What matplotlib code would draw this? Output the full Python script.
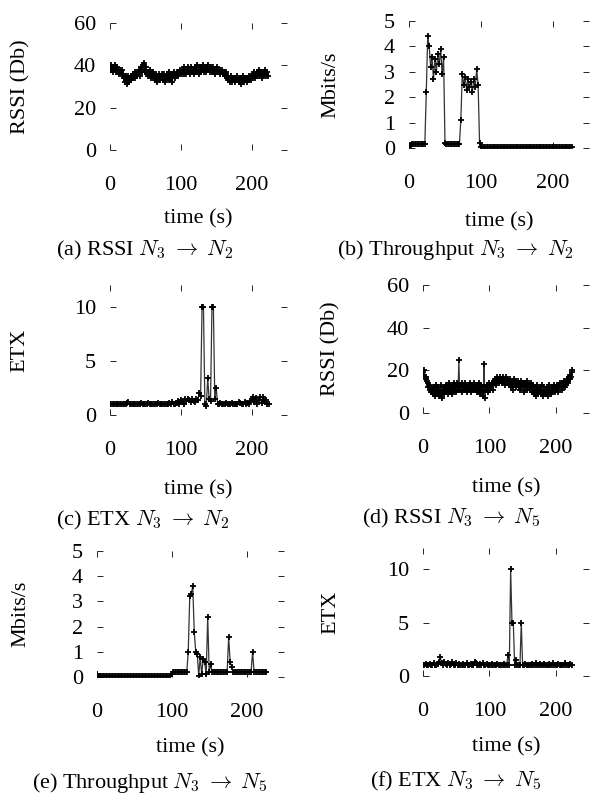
import numpy as np
import matplotlib
matplotlib.use("Agg")
import matplotlib.pyplot as plt

plt.rcParams['font.family'] = ['Liberation Serif', 'DejaVu Serif']
plt.rcParams['mathtext.fontset'] = 'cm'
plt.rcParams['font.size'] = 16

# (a) RSSI N3 -> N2, one sample per second from t = 0
rssi_32 = [39, 38, 40, 38, 37, 39, 38, 40, 37, 38, 39, 37, 38, 36, 38, 37,
           37, 38, 36, 35, 34, 32, 35, 33, 31, 34, 35, 32, 34, 33, 35, 34,
           36, 34, 35, 37, 34, 36, 35, 37, 36, 38, 37, 35, 39, 37, 38, 40,
           41, 38, 37, 39, 36, 37, 35, 37, 36, 38, 34, 36, 35, 37, 34, 33,
           35, 36, 34, 32, 35, 36, 33, 35, 34, 36, 35, 33, 36, 34, 32, 35,
           34, 36, 35, 33, 37, 35, 34, 36, 32, 35, 37, 36, 34, 35, 37, 36,
           35, 37, 36, 38, 37, 36, 38, 37, 39, 36, 38, 37, 36, 38, 39, 37,
           38, 36, 37, 39, 38, 37, 38, 36, 39, 37, 38, 40, 37, 38, 36, 39,
           38, 37, 39, 38, 40, 37, 38, 39, 37, 38, 39, 40, 38, 37, 39, 38,
           37, 38, 39, 37, 38, 36, 38, 39, 37, 38, 37, 36, 38, 37, 38, 37,
           36, 37, 35, 36, 37, 34, 35, 33, 34, 32, 33, 35, 34, 32, 33, 34,
           33, 32, 34, 33, 35, 33, 32, 34, 33, 31, 34, 33, 35, 32, 34, 33,
           34, 33, 32, 34, 33, 35, 34, 33, 35, 34, 36, 35, 37, 34, 36, 35,
           37, 36, 38, 35, 36, 37, 34, 36, 35, 37, 36, 38, 35, 36, 37, 35]

# (b) throughput N3 -> N2 (Mbits/s), one sample every 2 s
thr_32 = [0.02, 0.12, 0.15, 0.16, 0.15, 0.16, 0.15, 0.16, 0.15, 0.16, 0.15, 0.16,
          2.2, 4.4, 4.0, 3.2, 3.6, 2.7, 3.5, 3.0, 3.7, 3.3, 3.9, 2.9, 3.6,
          0.2, 0.16, 0.15, 0.16, 0.15, 0.16, 0.15, 0.16, 0.15, 0.16, 0.15,
          1.1, 2.9, 2.5, 2.8, 2.3, 2.7, 2.4, 2.6, 2.2, 2.7, 2.4, 3.1, 2.5,
          0.2, 0.05, 0.04, 0.03, 0.04, 0.03, 0.03, 0.04, 0.03, 0.03,
          0.04, 0.03, 0.03, 0.04, 0.03, 0.03, 0.04, 0.03, 0.03, 0.04,
          0.03, 0.03, 0.04, 0.03, 0.03, 0.04, 0.03, 0.03, 0.04, 0.03,
          0.03, 0.04, 0.03, 0.03, 0.04, 0.03, 0.03, 0.04, 0.03, 0.03,
          0.04, 0.03, 0.03, 0.04, 0.03, 0.03, 0.04, 0.03, 0.03, 0.04,
          0.03, 0.03, 0.04, 0.03, 0.03, 0.04, 0.03, 0.03, 0.04, 0.03,
          0.03, 0.04, 0.03, 0.03, 0.04]

# (c) ETX N3 -> N2, every 2 s
etx_32 = [1.0, 1.0, 1.0, 1.0, 1.0, 1.0, 1.0, 1.0, 1.0, 1.0,
          1.0, 1.0, 1.1, 1.2, 1.0, 1.0, 1.0, 1.0, 1.0, 1.0,
          1.0, 1.0, 1.1, 1.0, 1.0, 1.0, 1.0, 1.1, 1.0, 1.0,
          1.0, 1.0, 1.0, 1.0, 1.1, 1.0, 1.0, 1.0, 1.0, 1.0,
          1.0, 1.0, 1.1, 1.0, 1.2, 1.0, 1.0, 1.1, 1.3, 1.0,
          1.4, 1.2, 1.0, 1.5, 1.3, 1.5, 1.4, 1.2, 1.5, 1.3,
          1.2, 1.5, 1.4, 2.0, 1.8, 10.0, 10.0, 1.0, 0.8, 3.4,
          1.5, 1.3, 10.0, 10.0, 1.5, 2.5, 1.0, 1.0, 1.1, 1.0,
          1.0, 1.0, 1.1, 1.0, 1.0, 1.0, 1.1, 1.0, 1.0, 1.0,
          1.0, 1.2, 1.1, 1.0, 1.0, 1.2, 1.0, 1.1, 1.0, 1.3,
          1.5, 1.7, 1.2, 1.6, 1.0, 1.4, 1.7, 1.1, 1.7, 1.3,
          1.4, 1.0, 1.0]

# (d) RSSI N3 -> N5, one sample per second
rssi_35 = [19, 18, 20, 17, 16, 17, 15, 14, 12, 13, 11, 12, 10, 12, 11, 9,
           12, 10, 8, 11, 13, 9, 10, 12, 8, 11, 9, 13, 10, 7, 11, 12,
           9, 11, 13, 10, 12, 9, 11, 14, 10, 12, 11, 13, 9, 12, 14, 11,
           13, 10, 12, 14, 11, 13, 25, 12, 11, 13, 10, 14, 12, 11, 13, 12,
           14, 11, 12, 10, 13, 12, 11, 14, 12, 10, 13, 11, 12, 14, 11, 13,
           12, 10, 13, 11, 14, 12, 9, 13, 11, 12, 8, 10, 23, 7, 12, 11,
           13, 12, 10, 14, 12, 11, 13, 12, 14, 13, 11, 15, 14, 16, 13, 15,
           17, 15, 14, 16, 17, 15, 16, 14, 17, 15, 16, 13, 15, 17, 14, 16,
           15, 13, 14, 16, 12, 15, 13, 11, 14, 16, 13, 15, 12, 14, 13, 15,
           12, 14, 11, 13, 15, 12, 14, 13, 10, 14, 12, 13, 15, 11, 13, 12,
           13, 11, 14, 12, 10, 13, 11, 9, 12, 10, 8, 11, 13, 9, 11, 10,
           12, 9, 11, 13, 10, 8, 12, 10, 11, 9, 12, 10, 8, 11, 13, 10,
           11, 9, 12, 10, 11, 13, 12, 10, 12, 11, 13, 12, 10, 13, 12, 14,
           13, 11, 14, 12, 13, 15, 12, 14, 13, 16, 14, 15, 17, 16, 18, 17,
           19, 20]

# (e) throughput N3 -> N5 (Mbits/s), every 2 s
thr_35 = [0.1, 0.02, 0.03, 0.02, 0.03, 0.02, 0.03, 0.02, 0.03, 0.02,
          0.03, 0.02, 0.03, 0.02, 0.03, 0.02, 0.03, 0.02, 0.03, 0.02,
          0.03, 0.02, 0.03, 0.02, 0.03, 0.02, 0.03, 0.02, 0.03, 0.02,
          0.03, 0.02, 0.03, 0.02, 0.03, 0.02, 0.03, 0.02, 0.03, 0.02,
          0.03, 0.02, 0.03, 0.02, 0.03, 0.02, 0.03, 0.02, 0.03, 0.02,
          0.12, 0.2, 0.19, 0.2, 0.21, 0.2, 0.19, 0.2, 0.21, 0.2, 0.2,
          1.0, 3.2, 3.3, 3.6, 1.8, 1.0, 0.9, 0.05, 0.8, 0.1, 0.7, 0.6, 0.1,
          2.4, 0.2, 0.5, 0.2,
          0.2, 0.19, 0.2, 0.21, 0.2, 0.19, 0.2, 0.21, 0.2, 0.2,
          1.6, 0.6, 0.4,
          0.2, 0.19, 0.2, 0.21, 0.2, 0.19, 0.2, 0.21, 0.2, 0.2, 0.19, 0.2, 0.21,
          1.0,
          0.2, 0.19, 0.2, 0.21, 0.2, 0.19, 0.2, 0.21, 0.2]

# (f) ETX N3 -> N5, every 2 s
etx_35 = [1.0, 1.0, 1.1, 1.0, 1.0, 1.1, 1.0, 1.0, 1.2, 1.0,
          1.0, 1.1, 1.3, 1.8, 1.2, 1.0, 1.3, 1.1, 1.0, 1.2,
          1.0, 1.1, 1.3, 1.0, 1.0, 1.2, 1.0, 1.1, 1.0, 1.0,
          1.1, 1.0, 1.0, 1.2, 1.0, 1.0, 1.1, 1.0, 1.0, 1.3,
          1.2, 1.0, 1.0, 1.1, 1.0, 1.2, 1.0, 1.0, 1.1, 1.0,
          1.0, 1.0, 1.1, 1.0, 1.0, 1.0, 1.1, 1.0, 1.0, 1.0,
          1.0, 1.1, 1.0, 1.0, 2.0, 1.0, 10.0, 5.0, 5.0, 1.0,
          1.5, 1.0, 1.0, 1.0, 5.0, 1.0, 1.0, 1.1, 1.0, 1.0,
          1.0, 1.0, 1.1, 1.0, 1.0, 1.2, 1.0, 1.0, 1.1, 1.0,
          1.0, 1.1, 1.0, 1.0, 1.0, 1.1, 1.0, 1.0, 1.2, 1.0,
          1.0, 1.0, 1.1, 1.0, 1.0, 1.0, 1.0, 1.2, 1.0, 1.0,
          1.0, 1.1, 1.0]

W, H = 592, 794
ARROW = r'\;\rightarrow\;'

def box(x0, y0, x1, y1):
    # pixel box (top-left origin) -> figure fraction
    return [x0 / W, 1 - y1 / H, (x1 - x0) / W, (y1 - y0) / H]

panels = [
    # (values, sample step s, axes box px, ymax, yticks, ylabel, ylabel x, caption, caption x, caption y, xlabel y)
    (rssi_32, 1, (110, 23, 287, 150), 60, [0, 20, 40, 60], 'RSSI (Db)', 21,
     r'(a) RSSI $N_3' + ARROW + 'N_2$', 145, 250, 219),
    (thr_32, 2, (409, 21, 589, 148), 5, [0, 1, 2, 3, 4, 5], 'Mbits/s', 331,
     r'(b) Throughput $N_3' + ARROW + 'N_2$', 455, 250, 222),
    (etx_32, 2, (110, 285, 287, 415), 12, [0, 5, 10], 'ETX', 20,
     r'(c) ETX $N_3' + ARROW + 'N_2$', 143, 520, 490),
    (rssi_35, 1, (423, 285, 589, 413), 60, [0, 20, 40, 60], 'RSSI (Db)', 331,
     r'(d) RSSI $N_3' + ARROW + 'N_5$', 451, 518, 488),
    (thr_35, 2, (97, 551, 284, 677), 5, [0, 1, 2, 3, 4, 5], 'Mbits/s', 21,
     r'(e) Throughput $N_3' + ARROW + 'N_5$', 150, 783, 748),
    (etx_35, 2, (423, 548, 589, 676), 12, [0, 5, 10], 'ETX', 331,
     r'(f) ETX $N_3' + ARROW + 'N_5$', 456, 781, 747),
]

fig = plt.figure(figsize=(W / 100, H / 100), dpi=100)

for vals, step, bx, ymax, yticks, ylab, ylx, cap, cx, cy, xly in panels:
    t = np.arange(len(vals)) * step
    ax = fig.add_axes(box(*bx))
    ax.plot(t, vals, color='0.2', lw=0.9, marker='+', ms=5,
            mec='black', mew=1.3)
    ax.set_xlim(0, 250)
    ax.set_ylim(0, ymax)
    ax.set_xticks([0, 100, 200])
    ax.set_yticks(yticks)
    for s in ax.spines.values():
        s.set_visible(False)
    ax.tick_params(direction='in', length=4, width=0.6,
                   top=True, right=True)
    ax.tick_params(axis='x', pad=19)
    ax.tick_params(axis='y', pad=10)

    # axis titles and caption placed in pixels
    ymid = (bx[1] + bx[3]) / 2
    xmid = (bx[0] + bx[2]) / 2
    fig.text(ylx / W, 1 - ymid / H, ylab, rotation=90, ha='center', va='center')
    fig.text(xmid / W, 1 - xly / H, 'time (s)', ha='center', va='center')
    fig.text(cx / W, 1 - cy / H, cap, ha='center', va='center')

fig.savefig('out.png', dpi=100)
